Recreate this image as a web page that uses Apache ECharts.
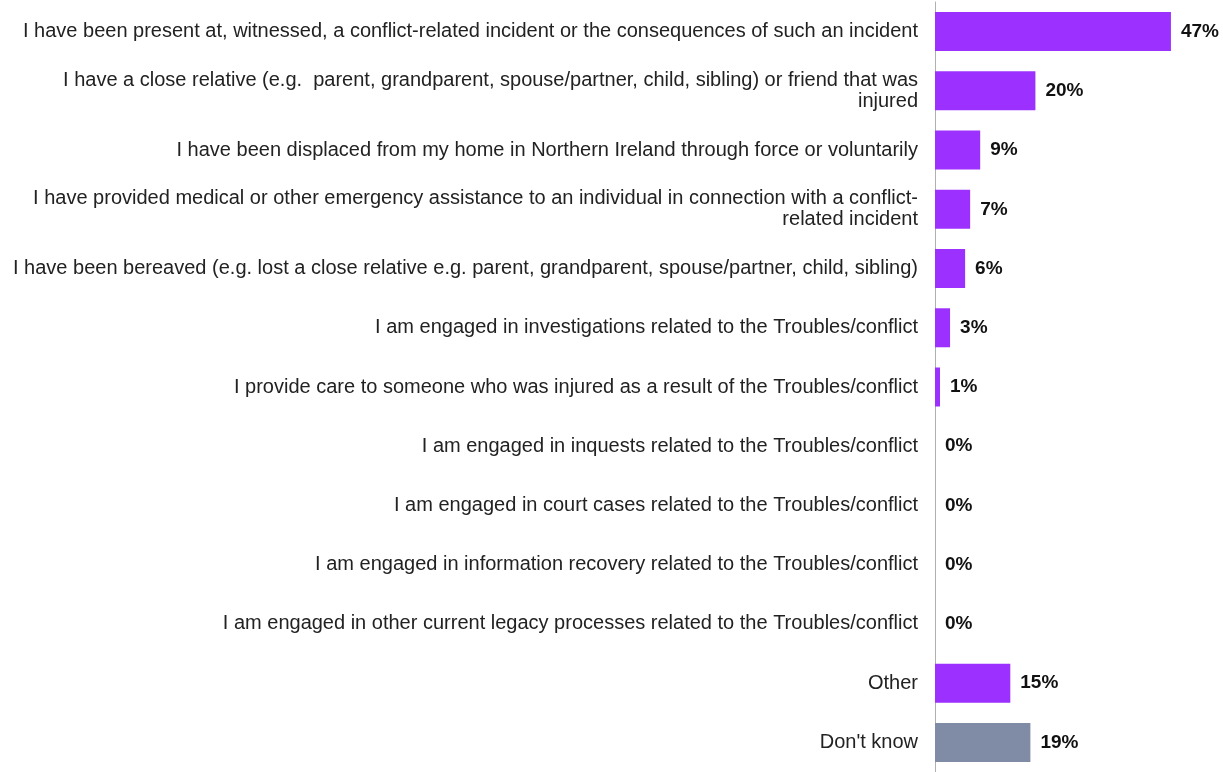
<!DOCTYPE html>
<html>
<head>
<meta charset="utf-8">
<script src="https://cdn.jsdelivr.net/npm/echarts@6/dist/echarts.min.js"></script>
<style>
  html, body { margin: 0; padding: 0; background: #fff; }
  #chart { width: 1223px; height: 772px; }
</style>
</head>
<body>
<div id="chart"></div>
<script>
// Experiences of the Troubles/conflict (% of respondents)
const categories = [
  "I have been present at, witnessed, a conflict-related incident or the consequences of such an incident",
  "I have a close relative (e.g.  parent, grandparent, spouse/partner, child, sibling) or friend that was\ninjured",
  "I have been displaced from my home in Northern Ireland through force or voluntarily",
  "I have provided medical or other emergency assistance to an individual in connection with a conflict-\nrelated incident",
  "I have been bereaved (e.g. lost a close relative e.g. parent, grandparent, spouse/partner, child, sibling)",
  "I am engaged in investigations related to the Troubles/conflict",
  "I provide care to someone who was injured as a result of the Troubles/conflict",
  "I am engaged in inquests related to the Troubles/conflict",
  "I am engaged in court cases related to the Troubles/conflict",
  "I am engaged in information recovery related to the Troubles/conflict",
  "I am engaged in other current legacy processes related to the Troubles/conflict",
  "Other",
  "Don't know"
];
const values = [47, 20, 9, 7, 6, 3, 1, 0, 0, 0, 0, 15, 19];
const mainColor = '#9b30ff';
const dontKnowColor = '#808ba5';
const fontStack = "'Liberation Sans', Arial, sans-serif";

const chart = echarts.init(document.getElementById('chart'));
chart.setOption({
  animation: false,
  grid: { left: 935, right: 37, top: 2, height: 777, containLabel: false },
  xAxis: { type: 'value', min: 0, max: 50, show: false },
  yAxis: {
    type: 'category',
    inverse: true,
    data: categories,
    axisLine: { show: true, lineStyle: { color: '#b0b0b0', width: 1 } },
    axisTick: { show: false },
    axisLabel: {
      margin: 17,
      color: '#222',
      fontFamily: fontStack,
      fontSize: 20,
      lineHeight: 21,
      align: 'right'
    }
  },
  series: [{
    type: 'bar',
    barWidth: 39,
    data: values.map((v, i) => ({
      value: v,
      itemStyle: { color: categories[i] === "Don't know" ? dontKnowColor : mainColor }
    })),
    label: {
      show: true,
      position: 'right',
      distance: 10,
      formatter: '{c}%',
      color: '#111',
      fontWeight: 'bold',
      fontSize: 19,
      fontFamily: fontStack
    }
  }]
});
</script>
</body>
</html>
